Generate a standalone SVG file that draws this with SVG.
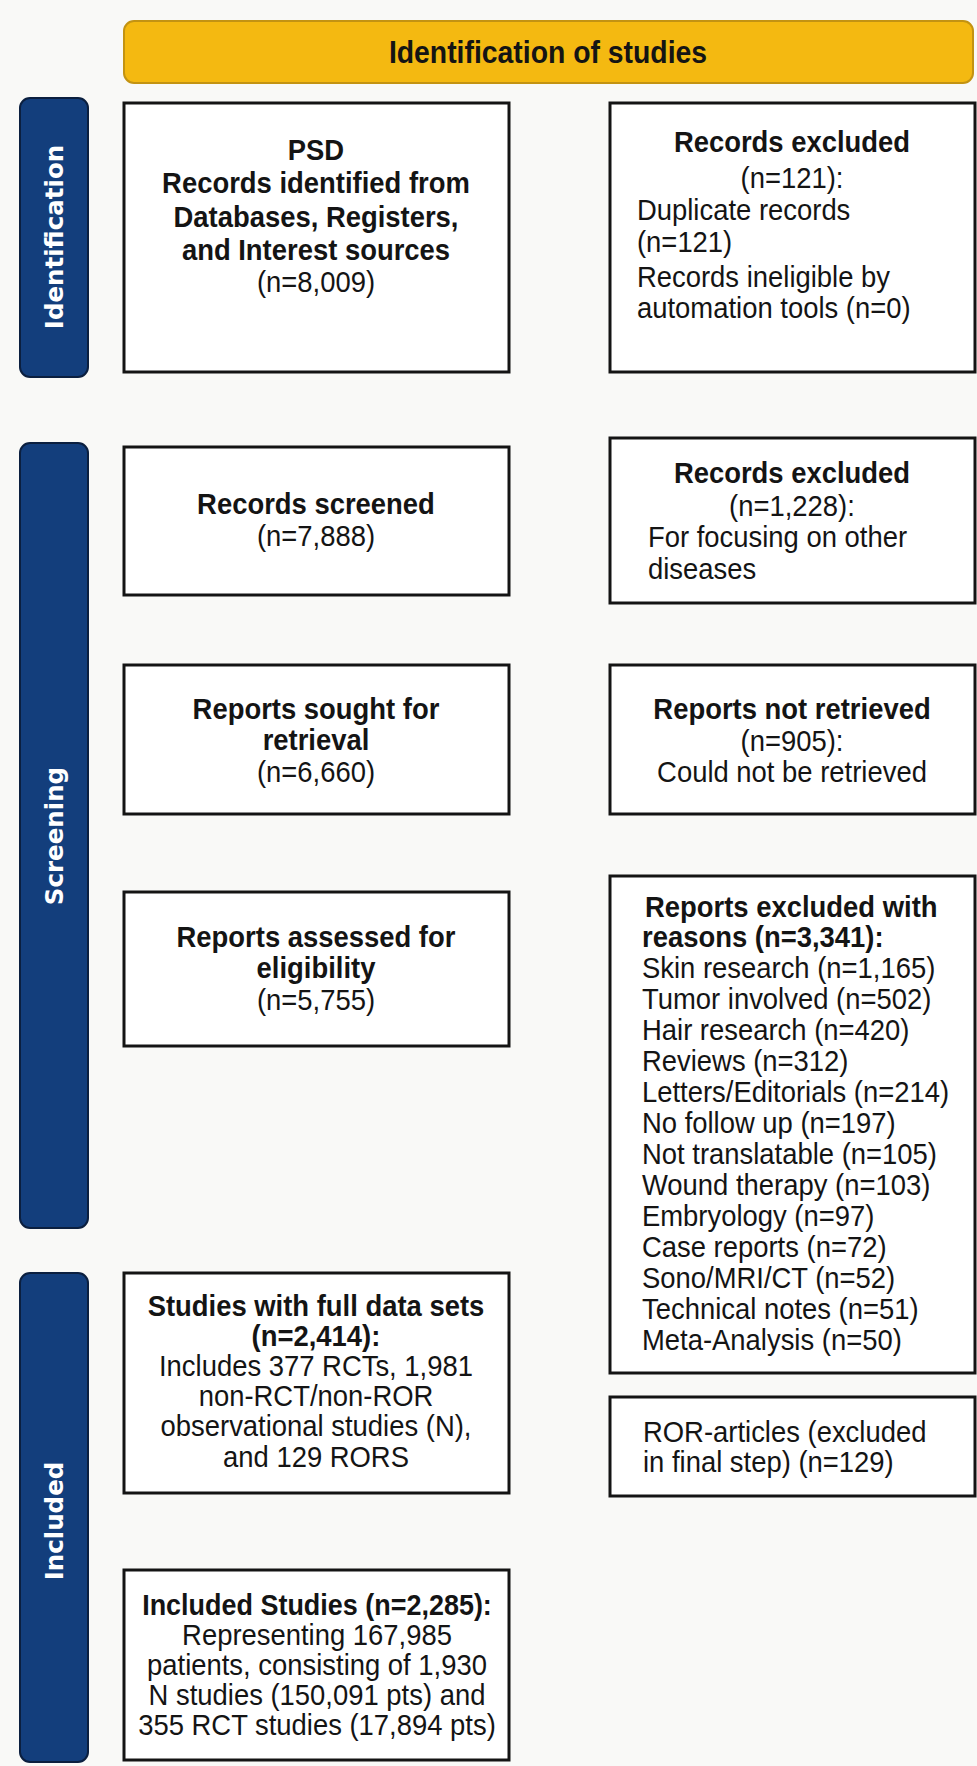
<svg xmlns="http://www.w3.org/2000/svg" width="977" height="1766" viewBox="0 0 977 1766">
<defs>
<style>
.bg{fill:#f9f9f7}
.box{fill:#ffffff;stroke:#141414;stroke-width:3}
.side{fill:#133e7c;stroke:#0b1f3f;stroke-width:2}
.head{fill:#f4b911;stroke:#c39312;stroke-width:2}
.b,.r{font-family:"Liberation Sans",Arial,sans-serif;font-size:29.5px;fill:#141414;transform-box:fill-box;transform:scaleX(0.93)}
.b{font-weight:bold}
.c{text-anchor:middle;transform-origin:50% 50%}
.l{transform-origin:0% 50%}
.sl{font-family:"DejaVu Sans",Verdana,sans-serif;font-weight:bold;font-size:24.5px;fill:#ffffff;text-anchor:middle}
</style>
</defs>
<rect class="bg" x="0" y="0" width="977" height="1766"/>

<g id="header">
<rect class="head" x="124" y="21" width="849" height="62" rx="10"/>
<text class="b c" x="548" y="63" style="font-size:30.5px">Identification of studies</text>
</g>

<g id="side-identification">
<rect class="side" x="20" y="98" width="68" height="279" rx="10"/>
<text class="sl" transform="translate(63,237) rotate(-90)">Identification</text>
</g>
<g id="side-screening">
<rect class="side" x="20" y="443" width="68" height="785" rx="10"/>
<text class="sl" transform="translate(63,836) rotate(-90)">Screening</text>
</g>
<g id="side-included">
<rect class="side" x="20" y="1273" width="68" height="489" rx="10"/>
<text class="sl" transform="translate(63,1521) rotate(-90)">Included</text>
</g>

<g id="connectors"></g>

<g id="n-psd">
<rect class="box" x="124" y="103" width="385" height="269"/>
<text class="b c" x="316" y="160">PSD</text>
<text class="b c" x="316" y="193">Records identified from</text>
<text class="b c" x="316" y="227">Databases, Registers,</text>
<text class="b c" x="316" y="260">and Interest sources</text>
<text class="r c" x="316" y="292">(n=8,009)</text>
</g>

<g id="n-excl1">
<rect class="box" x="610" y="103" width="365" height="269"/>
<text class="b c" x="792" y="152">Records excluded</text>
<text class="r c" x="792" y="188">(n=121):</text>
<text class="r l" x="637" y="220">Duplicate records</text>
<text class="r l" x="637" y="252">(n=121)</text>
<text class="r l" x="637" y="287">Records ineligible by</text>
<text class="r l" x="637" y="318">automation tools (n=0)</text>
</g>

<g id="n-screened">
<rect class="box" x="124" y="447" width="385" height="148"/>
<text class="b c" x="316" y="514">Records screened</text>
<text class="r c" x="316" y="546">(n=7,888)</text>
</g>

<g id="n-excl2">
<rect class="box" x="610" y="438" width="365" height="165"/>
<text class="b c" x="792" y="483">Records excluded</text>
<text class="r c" x="792" y="516">(n=1,228):</text>
<text class="r l" x="648" y="547">For focusing on other</text>
<text class="r l" x="648" y="579">diseases</text>
</g>

<g id="n-sought">
<rect class="box" x="124" y="665" width="385" height="149"/>
<text class="b c" x="316" y="719">Reports sought for</text>
<text class="b c" x="316" y="750">retrieval</text>
<text class="r c" x="316" y="782">(n=6,660)</text>
</g>

<g id="n-notretrieved">
<rect class="box" x="610" y="665" width="365" height="149"/>
<text class="b c" x="792" y="719">Reports not retrieved</text>
<text class="r c" x="792" y="751">(n=905):</text>
<text class="r c" x="792" y="782">Could not be retrieved</text>
</g>

<g id="n-assessed">
<rect class="box" x="124" y="892" width="385" height="154"/>
<text class="b c" x="316" y="947">Reports assessed for</text>
<text class="b c" x="316" y="978">eligibility</text>
<text class="r c" x="316" y="1010">(n=5,755)</text>
</g>

<g id="n-excl-reasons">
<rect class="box" x="610" y="876" width="365" height="497"/>
<text class="b l" x="645" y="917">Reports excluded with</text>
<text class="b l" x="642" y="947">reasons (n=3,341):</text>
<text class="r l" x="642" y="978">Skin research (n=1,165)</text>
<text class="r l" x="642" y="1009">Tumor involved (n=502)</text>
<text class="r l" x="642" y="1040">Hair research (n=420)</text>
<text class="r l" x="642" y="1071">Reviews (n=312)</text>
<text class="r l" x="642" y="1102">Letters/Editorials (n=214)</text>
<text class="r l" x="642" y="1133">No follow up (n=197)</text>
<text class="r l" x="642" y="1164">Not translatable (n=105)</text>
<text class="r l" x="642" y="1195">Wound therapy (n=103)</text>
<text class="r l" x="642" y="1226">Embryology (n=97)</text>
<text class="r l" x="642" y="1257">Case reports (n=72)</text>
<text class="r l" x="642" y="1288">Sono/MRI/CT (n=52)</text>
<text class="r l" x="642" y="1319">Technical notes (n=51)</text>
<text class="r l" x="642" y="1350">Meta-Analysis (n=50)</text>
</g>

<g id="n-fulldata">
<rect class="box" x="124" y="1273" width="385" height="220"/>
<text class="b c" x="316" y="1316">Studies with full data sets</text>
<text class="b c" x="316" y="1346">(n=2,414):</text>
<text class="r c" x="316" y="1376">Includes 377 RCTs, 1,981</text>
<text class="r c" x="316" y="1406">non-RCT/non-ROR</text>
<text class="r c" x="316" y="1436">observational studies (N),</text>
<text class="r c" x="316" y="1467">and 129 RORS</text>
</g>

<g id="n-ror">
<rect class="box" x="610" y="1397" width="365" height="99"/>
<text class="r l" x="643" y="1442">ROR-articles (excluded</text>
<text class="r l" x="643" y="1472">in final step) (n=129)</text>
</g>

<g id="n-included">
<rect class="box" x="124" y="1570" width="385" height="190"/>
<text class="b c" x="317" y="1615" textLength="376" lengthAdjust="spacingAndGlyphs">Included Studies (n=2,285):</text>
<text class="r c" x="317" y="1645">Representing 167,985</text>
<text class="r c" x="317" y="1675">patients, consisting of 1,930</text>
<text class="r c" x="317" y="1705">N studies (150,091 pts) and</text>
<text class="r c" x="317" y="1735">355 RCT studies (17,894 pts)</text>
</g>
</svg>
